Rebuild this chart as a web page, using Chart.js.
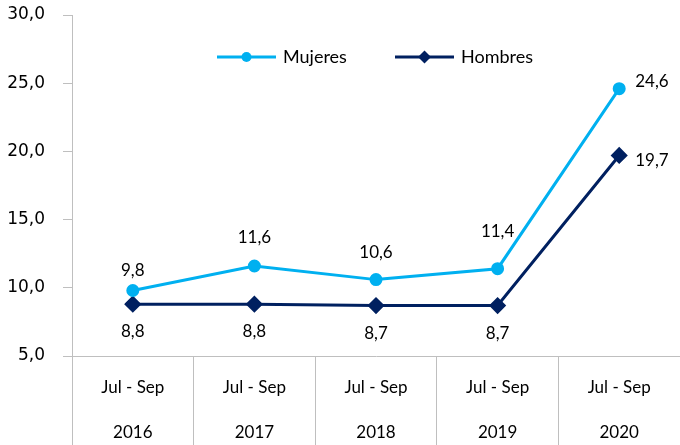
<!DOCTYPE html>
<html>
<head>
<meta charset="utf-8">
<script src="https://cdn.jsdelivr.net/npm/chart.js@4"></script>
<style>
  html, body { margin: 0; padding: 0; background: #ffffff; }
  #wrap { width: 680px; height: 445px; }
</style>
</head>
<body>
<div id="wrap"><canvas id="chart" width="680" height="445"></canvas></div>
<script>
const periods = ['Jul - Sep', 'Jul - Sep', 'Jul - Sep', 'Jul - Sep', 'Jul - Sep'];
const years = ['2016', '2017', '2018', '2019', '2020'];
const mujeres = [9.8, 11.6, 10.6, 11.4, 24.6];
const hombres = [8.8, 8.8, 8.7, 8.7, 19.7];

const blueLight = '#00b0f0';
const blueDark = '#002060';
const axisGray = '#bfbfbf';
const labelFont = 'Lato, "Liberation Sans", sans-serif';

// vertical shift of each value label from its point (hand placed in the original)
const labelShift = [
    [-20, -28, -27, -37, -7],
    [27, 27, 28, 28, 5]
];

function fmt(v) {
    return v.toFixed(1).replace('.', ',');
}

// point value labels, last point goes to the right
const valueLabels = {
    id: 'valueLabels',
    afterDatasetsDraw(chart) {
        const ctx = chart.ctx;
        ctx.save();
        ctx.font = '17px ' + labelFont;
        ctx.fillStyle = '#000000';
        ctx.textBaseline = 'middle';
        chart.data.datasets.forEach((ds, di) => {
            const meta = chart.getDatasetMeta(di);
            meta.data.forEach((pt, i) => {
                const last = i === ds.data.length - 1;
                const text = fmt(ds.data[i]);
                const dy = labelShift[di][i];
                if (last) {
                    ctx.textAlign = 'left';
                    ctx.fillText(text, pt.x + 16, pt.y + dy);
                } else {
                    ctx.textAlign = 'center';
                    ctx.fillText(text, pt.x, pt.y + dy);
                }
            });
        });
        ctx.restore();
    }
};

// legend with line + marker, drawn inside the plot
const lineLegend = {
    id: 'lineLegend',
    afterDraw(chart) {
        const ctx = chart.ctx;
        const y = 57;
        const items = [
            { x: 217, label: 'Mujeres', color: blueLight, shape: 'circle' },
            { x: 395, label: 'Hombres', color: blueDark, shape: 'diamond' }
        ];
        ctx.save();
        items.forEach(it => {
            ctx.strokeStyle = it.color;
            ctx.lineWidth = 3;
            ctx.beginPath();
            ctx.moveTo(it.x, y);
            ctx.lineTo(it.x + 59, y);
            ctx.stroke();
            ctx.fillStyle = it.color;
            const cx = it.x + 29.5;
            ctx.beginPath();
            if (it.shape === 'circle') {
                ctx.arc(cx, y, 5, 0, Math.PI * 2);
            } else {
                ctx.moveTo(cx, y - 6.5);
                ctx.lineTo(cx + 6.5, y);
                ctx.lineTo(cx, y + 6.5);
                ctx.lineTo(cx - 6.5, y);
                ctx.closePath();
            }
            ctx.fill();
            ctx.fillStyle = '#000000';
            ctx.font = '18px ' + labelFont;
            ctx.textAlign = 'left';
            ctx.textBaseline = 'middle';
            ctx.fillText(it.label, it.x + 66, y);
        });
        ctx.restore();
    }
};

const labels = periods.map((p, i) => [p, years[i]]);

const config = {
    type: 'line',
    data: {
        labels: labels,
        datasets: [{
            label: 'Mujeres',
            data: mujeres,
            borderColor: blueLight,
            backgroundColor: blueLight,
            borderWidth: 3,
            pointStyle: 'circle',
            pointRadius: 5,
            pointHoverRadius: 5,
            tension: 0
        }, {
            label: 'Hombres',
            data: hombres,
            borderColor: blueDark,
            backgroundColor: blueDark,
            borderWidth: 3,
            pointStyle: 'rectRot',
            pointRadius: 6.5,
            pointHoverRadius: 6.5,
            tension: 0
        }]
    },
    options: {
        responsive: false,
        animation: false,
        layout: {
            autoPadding: false,
            padding: { top: 15, right: 0, left: 0, bottom: 0 }
        },
        scales: {
            x: {
                offset: true,
                afterFit: (scale) => {
                    scale.height = 89;
                    scale.paddingLeft = 0;
                    scale.paddingRight = 0;
                },
                grid: {
                    offset: true,
                    drawOnChartArea: false,
                    color: axisGray,
                    tickLength: 89,
                    lineWidth: 1
                },
                border: { color: axisGray, width: 1 },
                ticks: {
                    color: '#000000',
                    padding: -79.5,
                    maxRotation: 0,
                    font: { family: labelFont, size: 17, lineHeight: '45px' }
                }
            },
            y: {
                min: 5,
                max: 30,
                afterFit: (scale) => {
                    scale.width = 72;
                    scale.paddingTop = 0;
                    scale.paddingBottom = 0;
                },
                grid: {
                    drawOnChartArea: false,
                    color: axisGray,
                    tickLength: 9
                },
                border: { color: axisGray, width: 1 },
                ticks: {
                    stepSize: 5,
                    color: '#000000',
                    padding: 18,
                    font: { family: '"DejaVu Sans", sans-serif', size: 17 },
                    callback: (v) => fmt(v)
                }
            }
        },
        plugins: {
            legend: { display: false },
            tooltip: { enabled: false },
            title: { display: false }
        }
    },
    plugins: [valueLabels, lineLegend]
};

var myChart = new Chart(
    document.getElementById('chart').getContext('2d'),
    config
);
</script>
</body>
</html>
